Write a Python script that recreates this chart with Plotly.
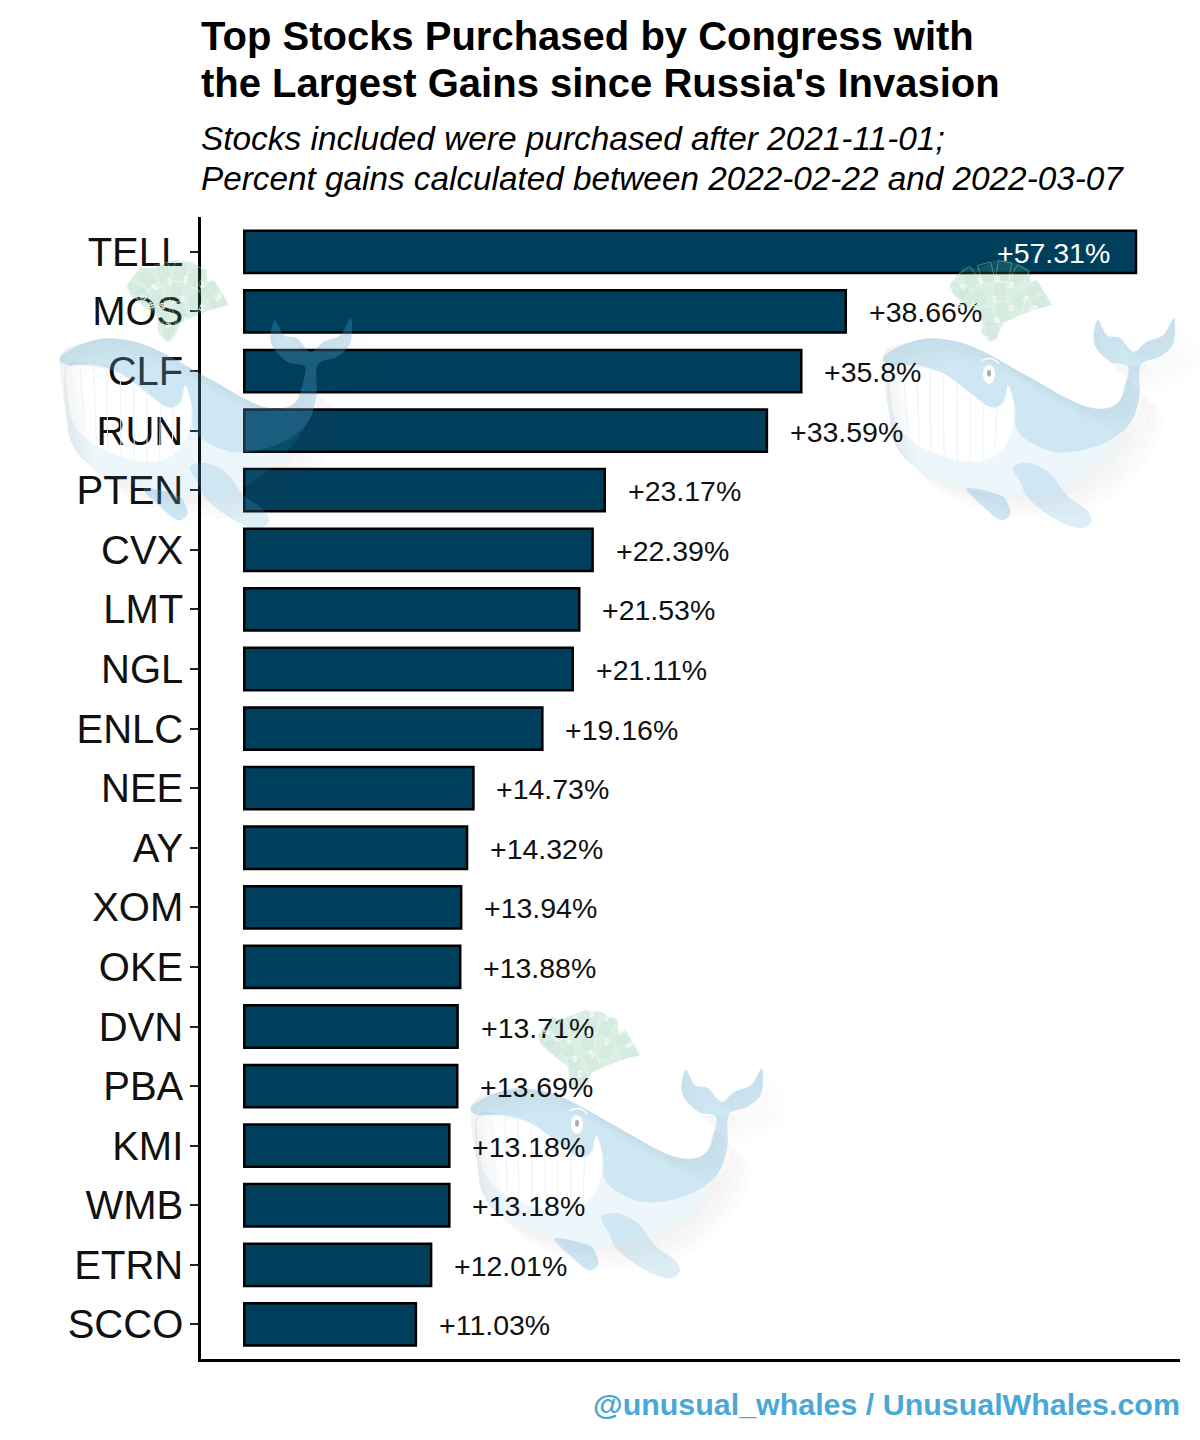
import math
import pandas as pd
import plotly.express as px

# Step 1: Stock gains typed from the chart
df = pd.DataFrame({
    'ticker': ['TELL', 'MOS', 'CLF', 'RUN', 'PTEN', 'CVX', 'LMT', 'NGL', 'ENLC', 'NEE',
               'AY', 'XOM', 'OKE', 'DVN', 'PBA', 'KMI', 'WMB', 'ETRN', 'SCCO'],
    'gain': [57.31, 38.66, 35.8, 33.59, 23.17, 22.39, 21.53, 21.11, 19.16, 14.73,
             14.32, 13.94, 13.88, 13.71, 13.69, 13.18, 13.18, 12.01, 11.03],
})

# Step 2: Bars
fig = px.bar(df, x='gain', y='ticker', orientation='h')
fig.update_traces(marker_color='#003f5c', marker_line_color='black', marker_line_width=2.5,
                  width=0.71, hoverinfo='skip', hovertemplate=None)

# Step 3: Axes and page
fig.update_layout(width=1200, height=1440, margin=dict(l=201, r=20, t=217, b=81, pad=0),
                  plot_bgcolor='white', paper_bgcolor='white', showlegend=False,
                  font=dict(family='Liberation Sans', color='black'))
fig.update_xaxes(range=[-2.78, 60.14], showgrid=False, zeroline=False, showticklabels=False,
                 ticks='', title=None, showline=True, linecolor='black', linewidth=2.5)
fig.update_yaxes(type='category', range=[18.58, -0.585], showgrid=False, zeroline=False, title=None,
                 showline=True, linecolor='black', linewidth=2.5, ticks='outside', ticklen=8,
                 tickwidth=1.5, tickcolor='#222222', tickfont=dict(size=40, color='#111111'),
                 ticklabelstandoff=-1)

# Step 4: Value labels
for i, row in df.iterrows():
    label = f"+{row['gain']:g}%"
    if i == 0:  # the longest bar holds its label inside
        fig.add_annotation(x=row['gain'], y=row['ticker'], text=label, showarrow=False, xanchor='right',
                           xshift=-24, yshift=-1, font=dict(size=28.5, color='white'))
    else:
        fig.add_annotation(x=row['gain'], y=row['ticker'], text=label, showarrow=False, xanchor='left',
                           xshift=21, yshift=-1, font=dict(size=28.5, color='#111111'))


def paper_x(v):
    return (v - 201) / 979


def paper_y(v):
    return (1359 - v) / 1142


# Step 5: Title, subtitle and credit
def add_line(text, x, y, size, color='black', xanchor='left'):
    fig.add_annotation(xref='paper', yref='paper', x=paper_x(x), y=paper_y(y), text=text, showarrow=False,
                       xanchor=xanchor, yanchor='middle', font=dict(size=size, color=color))


add_line('<b>Top Stocks Purchased by Congress with</b>', 199, 35.5, 40)
add_line("<b>the Largest Gains since Russia's Invasion</b>", 199, 83.5, 40)
add_line('<i>Stocks included were purchased after 2021-11-01;</i>', 199, 138.5, 33.4)
add_line('<i>Percent gains calculated between 2022-02-22 and 2022-03-07</i>', 199, 178, 33.3)
add_line('<b>@unusual_whales / UnusualWhales.com</b>', 1182, 1404, 30.4, color='#4aa8d6', xanchor='right')


# Step 6: Whale watermark, drawn in the pixels of the right whale's crop
def smooth(points):
    pts = [points[-1]] + points + points[:2]
    path = f'M {pts[1][0]:.4f},{pts[1][1]:.4f}'
    for a, b, c, d in zip(pts, pts[1:], pts[2:], pts[3:]):
        c1 = (b[0] + (c[0] - a[0]) / 6, b[1] + (c[1] - a[1]) / 6)
        c2 = (c[0] - (d[0] - b[0]) / 6, c[1] - (d[1] - b[1]) / 6)
        path += f' C {c1[0]:.4f},{c1[1]:.4f} {c2[0]:.4f},{c2[1]:.4f} {c[0]:.4f},{c[1]:.4f}'
    return path + ' Z'


upper = [(250, 440), (320, 400), (400, 385), (490, 400), (570, 435), (650, 480), (730, 525), (800, 565),
         (860, 590), (920, 595), (960, 570), (980, 510), (982, 468), (930, 455), (882, 400), (893, 330),
         (920, 375), (960, 385), (1000, 425), (1040, 395), (1090, 375), (1122, 325), (1120, 400), (1080, 440),
         (1022, 465), (1018, 560), (990, 640), (930, 690), (850, 720), (760, 725), (680, 690), (648, 650),
         (645, 590), (625, 525), (610, 575), (570, 590), (500, 540), (430, 490), (350, 465), (270, 465)]
belly = [(1018, 560), (990, 640), (930, 690), (850, 720), (760, 725), (680, 690), (648, 650), (645, 590),
         (625, 525), (610, 575), (570, 590), (500, 540), (430, 490), (350, 465), (270, 465), (262, 560),
         (270, 630), (280, 690), (320, 750), (400, 800), (500, 835), (620, 855), (700, 850), (800, 830),
         (900, 760), (980, 660)]
mouth = [(272, 472), (350, 470), (430, 492), (500, 542), (570, 592), (612, 578), (622, 528), (640, 565),
         (640, 640), (620, 700), (570, 745), (500, 755), (420, 735), (340, 695), (290, 640), (275, 570)]
fin = [(640, 770), (690, 760), (750, 790), (800, 855), (860, 900), (875, 935), (840, 955), (770, 930),
       (690, 870), (660, 815)]
rear_fin = [(500, 835), (600, 855), (625, 885), (630, 915), (600, 930), (550, 890)]
teeth = [(310, 478, 322, 665), (350, 472, 358, 695), (390, 480, 392, 720), (430, 495, 432, 738),
         (470, 520, 472, 750), (510, 548, 510, 755), (550, 578, 548, 752), (590, 590, 585, 725)]
spout = [(450, 225), (490, 170), (530, 175), (590, 150), (640, 155), (690, 180), (690, 215), (710, 210),
         (735, 250), (755, 285), (700, 300), (650, 320), (610, 340), (590, 385), (570, 395), (545, 370),
         (540, 320), (500, 290), (460, 255)]
notes = [(475, 240, -60), (510, 205, -35), (560, 190, -15), (610, 185, 10), (655, 200, 30), (700, 240, 50),
         (725, 275, 75), (500, 260, -40), (540, 265, -10), (600, 245, 5), (655, 270, 20), (610, 305, -20),
         (560, 320, -5), (575, 365, 5)]
body = upper[:12] + [(1018, 560)] + belly[:15:-1]
tail = upper[12:25]


def draw_whale(dx, dy, eye=True):
    def conv(points, ox=0, oy=0):
        return [(paper_x(800 + (x + ox) / 3 + dx), paper_y(210 + (y + oy) / 3 + dy)) for x, y in points]

    def add_path(path, fill):
        fig.add_shape(type='path', xref='paper', yref='paper', path=path,
                      fillcolor=fill, line_width=0, layer='above')

    # soft shadow, it only falls outside the whale
    for off in (18, 36, 54, 72):
        add_path(smooth(conv(body, off, off)) + ' ' + smooth(conv(body[::-1])), 'rgba(90,90,90,0.018)')
        add_path(smooth(conv(tail, off, off)) + ' ' + smooth(conv(tail[::-1])), 'rgba(90,90,90,0.012)')
    add_path(smooth(conv(upper)), 'rgba(90,169,214,0.29)')
    add_path(smooth(conv(belly)) + ' ' + smooth(conv(mouth)), 'rgba(90,169,214,0.11)')
    for x0, y0, x1, y1 in teeth:
        (ax, ay), (bx, by) = conv([(x0, y0), (x1, y1)])
        fig.add_shape(type='line', xref='paper', yref='paper', x0=ax, y0=ay, x1=bx, y1=by,
                      line=dict(color='#e9f3f9', width=1), layer='above')
    add_path(smooth(conv(fin)), 'rgba(90,169,214,0.2)')
    add_path(smooth(conv(rear_fin)), 'rgba(90,169,214,0.29)')

    # eye
    if eye:
        for cx, cy, rx, ry, color in [(567, 493, 18, 28, 'white'), (567, 490, 6, 10, '#aaaaaa')]:
            (ax, ay), (bx, by) = conv([(cx - rx, cy - ry), (cx + rx, cy + ry)])
            fig.add_shape(type='circle', xref='paper', yref='paper', x0=ax, y0=ay, x1=bx, y1=by,
                          fillcolor=color, line_width=0, layer='above')
        (ax, ay), (bx, by), (cx, cy) = conv([(545, 452), (578, 435), (597, 462)])
        fig.add_shape(type='path', xref='paper', yref='paper', path=f'M {ax:.4f},{ay:.4f} Q {bx:.4f},{by:.4f} {cx:.4f},{cy:.4f}',
                      line=dict(color='white', width=1.5), layer='above')

    # money spout
    add_path('M ' + ' L '.join(f'{x:.4f},{y:.4f}' for x, y in conv(spout)) + ' Z', 'rgba(70,170,120,0.2)')
    for cx, cy, angle in notes:
        t = math.radians(angle)
        corners = [(-20, -30), (20, -30), (20, 30), (-20, 30)]
        turned = [(cx + a * math.cos(t) - b * math.sin(t), cy + a * math.sin(t) + b * math.cos(t))
                  for a, b in corners]
        path = 'M ' + ' L '.join(f'{x:.4f},{y:.4f}' for x, y in conv(turned)) + ' Z'
        fig.add_shape(type='path', xref='paper', yref='paper', path=path, fillcolor='rgba(70,170,120,0.03)',
                      line=dict(color='rgba(255,255,255,0.5)', width=0.6), layer='above')
        (px_, py_), = conv([(cx, cy)])
        fig.add_annotation(xref='paper', yref='paper', x=px_, y=py_, text='$', showarrow=False, textangle=angle,
                           font=dict(size=9, color='white'))


draw_whale(0, 0)
draw_whale(-823, 0, eye=False)
draw_whale(-412, 750)

fig.write_html("out.html", post_script="document.body.style.margin='0';", config={'displayModeBar': False})
